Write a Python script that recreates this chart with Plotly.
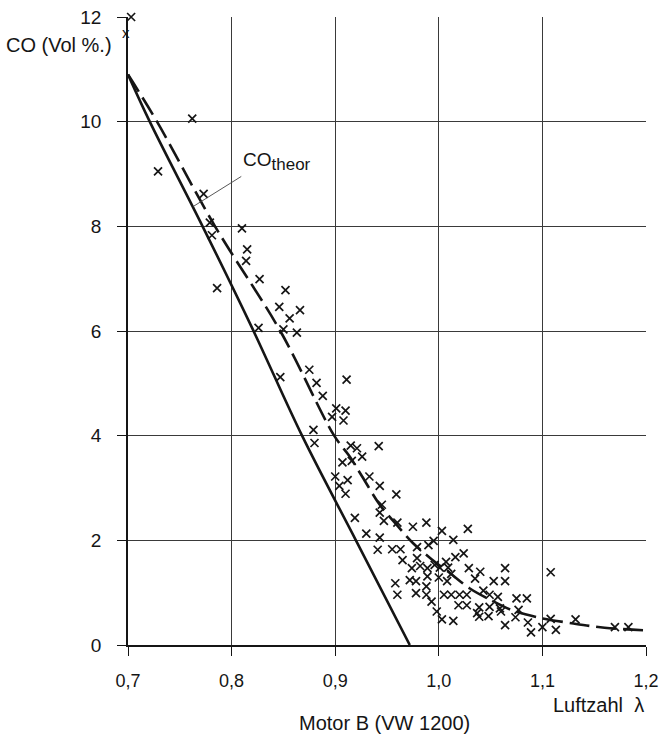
import plotly.graph_objects as go

# Measured CO values (lambda, CO Vol%)
meas_lambda = [0.692, 0.703, 0.762, 0.729, 0.773, 0.779, 0.781, 0.810, 0.815, 0.814,
               0.786, 0.827, 0.852, 0.846, 0.866, 0.856, 0.826, 0.850, 0.863, 0.875,
               0.847, 0.911, 0.882, 0.888, 0.901, 0.910, 0.897, 0.908, 0.879, 0.880,
               0.915, 0.921, 0.942, 0.926, 0.907, 0.916, 0.900, 0.912, 0.904, 0.910,
               0.933, 0.943, 0.959, 0.945, 0.943, 0.947, 0.919, 0.960, 0.975, 0.988,
               1.003, 1.028, 0.930, 0.943, 1.014, 0.995, 0.990, 0.941, 0.955, 0.963,
               0.979, 1.016, 1.024, 0.965, 0.979, 0.974, 0.982, 0.989, 0.996, 1.001,
               1.007, 1.009, 1.029, 0.989, 1.000, 0.972, 0.978, 1.008, 1.012, 0.958,
               0.988, 1.035, 0.960, 0.978, 0.988, 1.005, 1.012, 1.020, 1.027, 0.993,
               1.019, 1.027, 0.998, 1.003, 1.014, 1.037, 1.040, 1.064, 1.053, 1.064,
               1.043, 1.049, 1.057, 1.075, 1.085, 1.039, 1.049, 1.059, 1.060, 1.039,
               1.048, 1.077, 1.074, 1.086, 1.064, 1.089, 1.108, 1.100, 1.108, 1.113,
               1.132, 1.170, 1.183]
meas_co = [11.67, 12.00, 10.06, 9.05, 8.62, 8.07, 7.83, 7.96, 7.56, 7.34,
           6.82, 6.99, 6.78, 6.46, 6.40, 6.24, 6.06, 6.03, 5.97, 5.26,
           5.12, 5.07, 5.01, 4.76, 4.52, 4.48, 4.36, 4.29, 4.11, 3.86,
           3.81, 3.76, 3.80, 3.60, 3.49, 3.52, 3.22, 3.15, 3.04, 2.89,
           3.22, 3.04, 2.88, 2.68, 2.53, 2.37, 2.43, 2.34, 2.26, 2.34,
           2.18, 2.22, 2.13, 2.05, 2.01, 1.99, 1.91, 1.82, 1.83, 1.83,
           1.87, 1.68, 1.75, 1.62, 1.66, 1.47, 1.51, 1.47, 1.53, 1.48,
           1.59, 1.48, 1.47, 1.31, 1.29, 1.24, 1.22, 1.22, 1.36, 1.18,
           1.12, 1.27, 0.96, 0.99, 0.96, 0.96, 0.96, 0.96, 0.96, 0.83,
           0.76, 0.76, 0.64, 0.49, 0.46, 0.61, 1.40, 1.47, 1.22, 1.22,
           1.04, 0.96, 0.92, 0.89, 0.89, 0.72, 0.73, 0.70, 0.64, 0.54,
           0.55, 0.67, 0.53, 0.43, 0.38, 0.24, 1.39, 0.34, 0.50, 0.29,
           0.49, 0.34, 0.34]

# Theoretical CO curve (solid)
theor_lambda = [0.700, 0.721, 0.772, 0.820, 0.868, 0.920, 0.972]
theor_co = [10.90, 10.00, 8.00, 6.05, 4.00, 2.00, 0.00]

# Mean curve through measurements (dashed)
mean_lambda = [0.700, 0.728, 0.784, 0.847, 0.899, 0.914, 0.926, 0.943, 0.960, 0.975,
               0.993, 1.011, 1.030, 1.050, 1.070, 1.095, 1.130, 1.160, 1.200]
mean_co = [10.90, 10.00, 8.00, 6.00, 4.00, 3.60, 3.22, 2.68, 2.28, 1.95,
           1.64, 1.37, 1.08, 0.86, 0.67, 0.53, 0.41, 0.33, 0.28]

x_ticks = [0.7, 0.8, 0.9, 1.0, 1.1, 1.2]
x_ticktext = ["0,7", "0,8", "0,9", "1,0", "1,1", "1,2"]
y_ticks = [0, 2, 4, 6, 8, 10, 12]
X_MIN, X_MAX = 0.7, 1.2

FONT = "Liberation Sans"
INK = "#151515"

in_x = [l for l in meas_lambda if l >= X_MIN]
in_y = [c for l, c in zip(meas_lambda, meas_co) if l >= X_MIN]
out_pts = [(l, c) for l, c in zip(meas_lambda, meas_co) if l < X_MIN]

fig = go.Figure()
fig.add_trace(go.Scatter(x=theor_lambda, y=theor_co, mode="lines",
                         line=dict(color=INK, width=2.6, shape="spline"),
                         showlegend=False, hoverinfo="skip"))
fig.add_trace(go.Scatter(x=mean_lambda, y=mean_co, mode="lines",
                         line=dict(color=INK, width=2.6, shape="spline", dash="20px,7px"),
                         showlegend=False, hoverinfo="skip"))
fig.add_trace(go.Scatter(x=in_x, y=in_y, mode="markers",
                         marker=dict(symbol="x-thin-open", size=8, color=INK,
                                     line=dict(color=INK, width=1.7)),
                         cliponaxis=False, showlegend=False))

# measured points lying just left of the plotted range (drawn outside the frame, as in the original)
for l, c in out_pts:
    fig.add_annotation(x=(l - X_MIN) / (X_MAX - X_MIN), y=c, xref="x domain", yref="y",
                       showarrow=False, text="x", yshift=2,
                       font=dict(family=FONT, size=15, color=INK))

fig.update_xaxes(range=[X_MIN, X_MAX], tickvals=x_ticks, ticktext=x_ticktext,
                 showgrid=True, gridcolor="#3a3a3a", gridwidth=1,
                 showline=True, linecolor=INK, linewidth=1.6,
                 ticks="outside", ticklen=9, tickcolor=INK, tickwidth=1.3,
                 ticklabelstandoff=10, zeroline=False, automargin=False,
                 tickfont=dict(family=FONT, size=18, color=INK))
fig.update_yaxes(range=[0, 12], tickvals=y_ticks,
                 showgrid=True, gridcolor="#3a3a3a", gridwidth=1,
                 showline=True, linecolor=INK, linewidth=1.6,
                 ticks="outside", ticklen=9, tickcolor=INK, tickwidth=1.3,
                 ticklabelstandoff=12, zeroline=False, automargin=False,
                 tickfont=dict(family=FONT, size=19, color=INK))

fig.add_annotation(xref="paper", yref="paper", x=-0.239, y=0.955,
                   xanchor="left", yanchor="middle", showarrow=False,
                   text="CO (Vol %.)", font=dict(family=FONT, size=20, color=INK))
fig.add_annotation(xref="paper", yref="paper", x=1.0, y=-0.096,
                   xanchor="right", yanchor="middle", showarrow=False,
                   text="Luftzahl  λ", font=dict(family=FONT, size=20, color=INK))
fig.add_annotation(xref="paper", yref="paper", x=0.496, y=-0.124,
                   xanchor="center", yanchor="middle", showarrow=False,
                   text="Motor B (VW 1200)", font=dict(family=FONT, size=20, color=INK))
fig.add_annotation(x=0.763, y=8.38, xref="x", yref="y",
                   ax=48, ay=-30, axref="pixel", ayref="pixel",
                   showarrow=True, arrowhead=0, arrowwidth=0.9, arrowcolor="#444",
                   text="CO<sub><span style='font-size:17px'>theor</span></sub>",
                   xanchor="left", yanchor="bottom",
                   font=dict(family=FONT, size=19, color=INK))

fig.update_layout(width=664, height=740,
                  margin=dict(l=128, r=18, t=17, b=95, autoexpand=False),
                  paper_bgcolor="white", plot_bgcolor="white")

fig.write_html("out.html")
